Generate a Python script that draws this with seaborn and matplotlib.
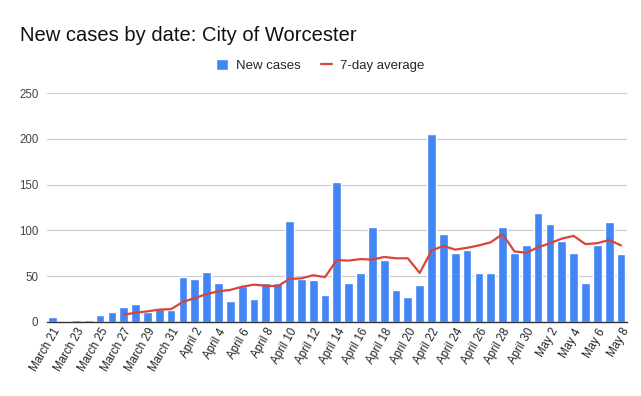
import numpy as np
import pandas as pd
import seaborn as sns
import matplotlib.pyplot as plt

# Dates shown on the x axis (March 21 - May 8)
dates = [d.strftime("%B %-d") for d in pd.date_range("2020-03-21", "2020-05-08")]

# Daily new cases
new_cases = [5, 0, 2, 2, 8, 11, 16, 20, 11, 14, 13,
             49, 47, 55, 43, 23, 39, 25, 42, 42, 110,
             47, 46, 29, 153, 42, 53, 104, 68, 35, 27,
             40, 205, 96, 75, 79, 53, 54, 104, 75, 84,
             119, 107, 88, 75, 42, 84, 109, 74]

# 7-day average (starts on March 27)
avg_7day = [np.nan] * 6 + [8, 10, 11.6, 13.5, 14,
            22, 26, 30.5, 33.5, 35, 38.5, 40.7, 39.6, 39, 47,
            47.6, 51, 49, 67.6, 67, 68.7, 68, 71, 69.5, 69.5,
            53.5, 78, 83, 79, 81, 83.6, 87, 96, 77, 75.6,
            81.5, 86, 91, 94, 85, 86, 89.5, 83.6]

df = pd.DataFrame({"date": dates, "pos": range(len(dates)),
                   "cases": new_cases, "avg": avg_7day})

sns.set_style("white")
plt.rcParams["font.family"] = ["Liberation Sans", "DejaVu Sans"]

fig = plt.figure(figsize=(6.41, 3.96), dpi=100)
ax = fig.add_axes([0.073, 0.187, 0.905, 0.578])

sns.barplot(data=df, x="pos", y="cases", color="#4285F4", saturation=1,
            width=0.74, ax=ax, label="New cases", zorder=2)
sns.lineplot(data=df, x="pos", y="avg", color="#DB4437", linewidth=1.6,
             ax=ax, label="7-day average", zorder=3)

ax.set_ylim(0, 250)
ax.set_xlim(-0.5, len(dates) - 0.5)
ax.set_yticks([0, 50, 100, 150, 200, 250])
ax.yaxis.grid(True, color="#cccccc", linewidth=0.8, zorder=0)
ax.set_axisbelow(True)
ax.set_xlabel("")
ax.set_ylabel("")

ticks = list(range(0, len(dates), 2))
ax.set_xticks(ticks)
ax.set_xticklabels([dates[i] for i in ticks], rotation=60, ha="right",
                   rotation_mode="anchor", fontsize=8.3, color="#222222")
ax.tick_params(axis="y", labelsize=8.3, colors="#444444", length=0, pad=6)
ax.tick_params(axis="x", length=0, pad=3)

for s in ["top", "right", "left"]:
    ax.spines[s].set_visible(False)
ax.spines["bottom"].set_color("#333333")
ax.spines["bottom"].set_linewidth(1)

handles, labels = ax.get_legend_handles_labels()
order = [labels.index("New cases"), labels.index("7-day average")]
ax.legend([handles[i] for i in order], [labels[i] for i in order],
          loc="center", bbox_to_anchor=(0.5, 0.835),
          bbox_transform=fig.transFigure, ncol=2, frameon=False,
          fontsize=9.5, handlelength=0.9, handleheight=0.9, columnspacing=1.5,
          handletextpad=0.6)

fig.text(0.031, 0.91, "New cases by date: City of Worcester", fontsize=14.5,
         color="#111111", va="center")

fig.savefig("out.png", dpi=100)
